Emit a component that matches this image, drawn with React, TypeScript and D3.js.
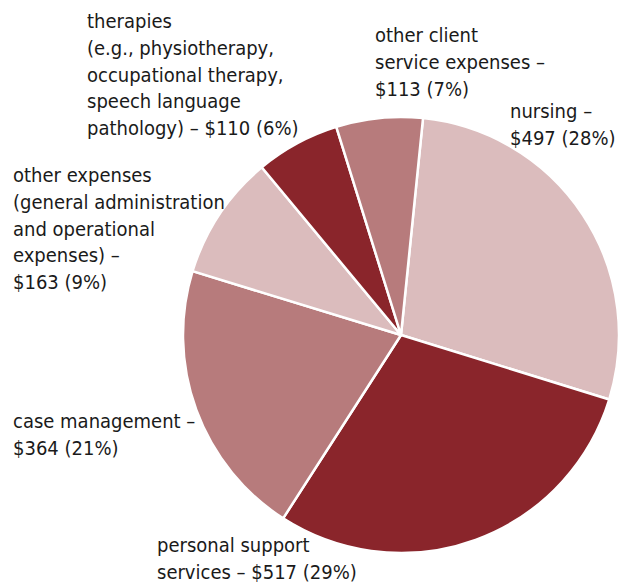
import * as d3 from "d3";
import { useEffect, useRef } from "react";

// cost categories, clockwise from just right of 12 o'clock
const categories = [
  "nursing",
  "personal support services",
  "case management",
  "other expenses",
  "therapies",
  "other client service expenses",
];
const values = [497, 517, 364, 163, 110, 113];
const shares = ["28%", "29%", "21%", "9%", "6%", "7%"];

// label lines as they are wrapped in the chart
const labelLines = [
  ["nursing –", "$497 (28%)"],
  ["personal support", "services – $517 (29%)"],
  ["case management –", "$364 (21%)"],
  ["other expenses", "(general administration", "and operational", "expenses) –", "$163 (9%)"],
  ["therapies", "(e.g., physiotherapy,", "occupational therapy,", "speech language", "pathology) – $110 (6%)"],
  ["other client", "service expenses –", "$113 (7%)"],
];
const labelPos = [
  [510, 118],
  [157, 552],
  [13, 428],
  [13, 182],
  [87, 28],
  [375, 42],
];

const colors = ["#dbbcbd", "#8a252b", "#b77b7c", "#dbbcbd", "#8a252b", "#b77b7c"];

const App = () => {
  const ref = useRef<SVGSVGElement>(null);

  useEffect(() => {
    const svg = d3.select(ref.current);
    svg.selectAll("*").remove();

    const cx = 401;
    const cy = 335;
    const r = 218;
    const start = (5.8 * Math.PI) / 180;

    const pie = d3
      .pie<number>()
      .sort(null)
      .startAngle(start)
      .endAngle(start + 2 * Math.PI);
    const arc = d3.arc<d3.PieArcDatum<number>>().innerRadius(0).outerRadius(r);

    const g = svg.append("g").attr("transform", `translate(${cx},${cy})`);
    g.selectAll("path")
      .data(pie(values))
      .enter()
      .append("path")
      .attr("d", arc)
      .attr("fill", (d, i) => colors[i])
      .attr("stroke", "#fff")
      .attr("stroke-width", 2.5)
      .attr("stroke-linejoin", "round");

    labelLines.forEach((lines, i) => {
      const t = svg
        .append("text")
        .attr("x", labelPos[i][0])
        .attr("y", labelPos[i][1])
        .attr("fill", "#1a1a1a")
        .style("font-family", "'Liberation Sans Narrow', 'DejaVu Sans Condensed', sans-serif")
        .style("font-size", "20px");
      lines.forEach((line, j) => {
        t.append("tspan")
          .attr("x", labelPos[i][0])
          .attr("dy", j === 0 ? 0 : 26.8)
          .text(line);
      });
    });
  }, []);

  return (
    <svg
      ref={ref}
      width={629}
      height={585}
      style={{ position: "absolute", left: 0, top: 0 }}
    ></svg>
  );
};

export default App;
